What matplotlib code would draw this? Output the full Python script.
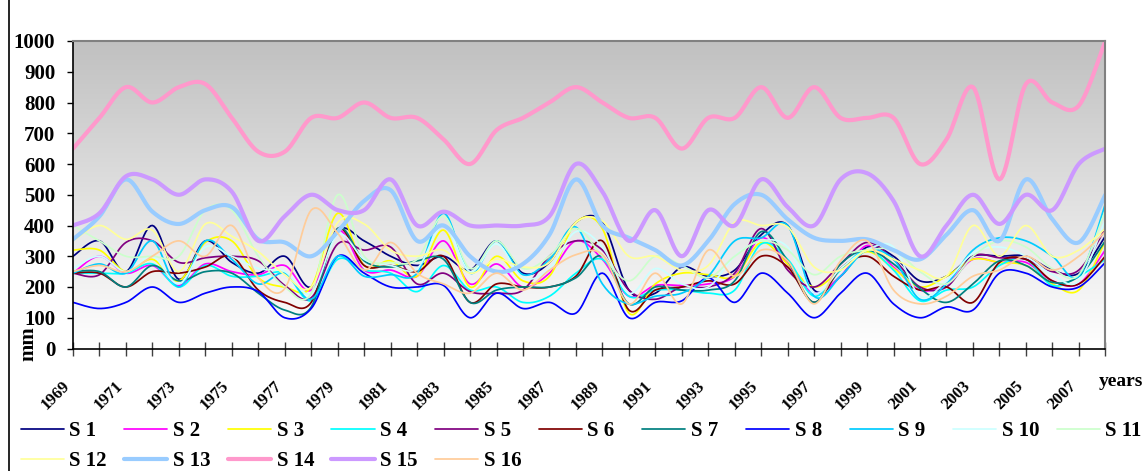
import numpy as np
import matplotlib
matplotlib.use('Agg')
import matplotlib.pyplot as plt
from matplotlib.colors import LinearSegmentedColormap
from matplotlib.lines import Line2D
from matplotlib.transforms import ScaledTranslation

years = list(range(1969, 2009))

s1 = [300, 350, 250, 400, 225, 350, 280, 245, 300, 200, 385, 350, 300, 270, 300, 255, 350, 245, 280, 410,
      410, 190, 180, 265, 235, 255, 370, 400, 190, 235, 330, 300, 220, 235, 300, 300, 300, 255, 245, 365]
s2 = [245, 300, 245, 270, 205, 275, 250, 240, 270, 190, 385, 255, 255, 235, 350, 210, 275, 200, 245, 350,
      290, 170, 205, 205, 210, 235, 360, 275, 180, 235, 335, 265, 190, 210, 290, 280, 280, 220, 210, 320]
s3 = [320, 320, 250, 290, 220, 345, 350, 230, 200, 200, 440, 270, 285, 235, 385, 200, 300, 220, 235, 410,
      390, 115, 210, 245, 240, 235, 345, 275, 200, 255, 315, 260, 200, 235, 290, 280, 270, 210, 190, 350]
s4 = [245, 245, 245, 275, 200, 270, 235, 235, 245, 155, 290, 255, 245, 185, 270, 190, 200, 150, 170, 245,
      290, 170, 190, 190, 180, 190, 340, 290, 170, 255, 320, 255, 155, 190, 200, 270, 290, 205, 235, 290]
s5 = [245, 240, 345, 350, 280, 295, 300, 285, 205, 165, 340, 320, 330, 210, 245, 185, 180, 190, 300, 350,
      320, 190, 160, 200, 200, 245, 390, 255, 200, 275, 345, 290, 200, 200, 300, 295, 290, 250, 255, 390]
s6 = [245, 245, 200, 250, 245, 265, 300, 190, 150, 150, 390, 270, 270, 250, 300, 150, 210, 200, 200, 235,
      350, 125, 190, 200, 220, 210, 300, 265, 150, 260, 300, 235, 190, 200, 150, 280, 290, 220, 210, 300]
s7 = [250, 250, 200, 270, 220, 250, 245, 180, 125, 135, 390, 285, 265, 285, 290, 150, 190, 200, 200, 230,
      300, 145, 200, 190, 190, 220, 380, 285, 150, 275, 320, 275, 195, 150, 210, 285, 270, 215, 235, 350]
s8 = [150, 130, 150, 200, 150, 180, 200, 185, 100, 130, 300, 245, 200, 200, 205, 100, 180, 130, 150, 115,
      245, 100, 150, 155, 230, 150, 245, 180, 100, 180, 245, 145, 100, 135, 125, 245, 245, 200, 200, 280]
s9 = [245, 275, 245, 350, 200, 350, 290, 210, 245, 160, 300, 235, 240, 245, 440, 245, 350, 240, 290, 395,
      210, 145, 170, 180, 235, 350, 360, 400, 170, 235, 320, 290, 160, 210, 320, 360, 350, 300, 235, 470]
s10 = [260, 300, 250, 300, 210, 330, 300, 260, 250, 180, 370, 290, 270, 260, 400, 250, 340, 230, 260, 380,
       330, 180, 260, 210, 200, 300, 350, 330, 180, 260, 320, 330, 170, 220, 310, 330, 300, 240, 220, 420]
s11 = [400, 350, 300, 300, 300, 450, 450, 300, 200, 180, 500, 300, 280, 290, 430, 260, 350, 260, 300, 390,
       300, 220, 300, 270, 230, 300, 350, 320, 240, 300, 320, 320, 250, 210, 300, 350, 330, 260, 240, 450]
s12 = [350, 400, 355, 385, 250, 405, 365, 315, 240, 200, 410, 405, 320, 300, 320, 245, 290, 265, 280, 410,
       415, 300, 300, 255, 270, 410, 400, 395, 265, 255, 320, 290, 255, 235, 400, 300, 400, 300, 320, 390]
s13 = [355, 430, 550, 445, 405, 450, 460, 355, 345, 300, 380, 480, 515, 350, 400, 300, 250, 275, 370, 550,
       400, 360, 320, 270, 350, 470, 500, 420, 360, 350, 355, 320, 290, 370, 450, 350, 550, 420, 345, 500]
s14 = [650, 750, 850, 800, 850, 860, 750, 640, 640, 750, 750, 800, 750, 750, 680, 600, 710, 750, 800, 850,
       800, 750, 750, 650, 750, 750, 850, 750, 850, 750, 750, 750, 600, 680, 850, 550, 860, 800, 790, 1000]
s15 = [400, 440, 560, 550, 500, 550, 510, 350, 430, 500, 450, 450, 550, 400, 445, 400, 400, 400, 430, 600,
       510, 350, 450, 300, 450, 400, 550, 460, 400, 550, 570, 480, 300, 400, 500, 405, 500, 450, 600, 650]
s16 = [250, 270, 250, 300, 350, 300, 400, 230, 195, 450, 375, 255, 345, 245, 210, 180, 245, 190, 255, 305,
       305, 145, 245, 145, 320, 235, 320, 285, 145, 285, 350, 190, 145, 170, 235, 255, 300, 255, 300, 380]

series = [s1, s2, s3, s4, s5, s6, s7, s8, s9, s10, s11, s12, s13, s14, s15, s16]
names = ['S %d' % (k + 1) for k in range(16)]
colors = ['#000080', '#FF00FF', '#FFFF00', '#00FFFF', '#800080', '#800000', '#008080', '#0000FF',
          '#00CCFF', '#CCFFFF', '#CCFFCC', '#FFFF99', '#99CCFF', '#FF99CC', '#CC99FF', '#FFCC99']
label_years = years[::2]


def smooth(x, y, n=16):
    # catmull-rom, like excel's smoothed line
    x = np.asarray(x, float)
    y = np.asarray(y, float)
    px = np.concatenate([[x[0]], x, [x[-1]]])
    py = np.concatenate([[y[0]], y, [y[-1]]])
    t = np.linspace(0, 1, n, endpoint=False)[None, :]
    out = []
    for p in (px, py):
        p0, p1, p2, p3 = p[:-3, None], p[1:-2, None], p[2:-1, None], p[3:, None]
        c = 0.5 * (2 * p1 + (-p0 + p2) * t + (2 * p0 - 5 * p1 + 4 * p2 - p3) * t ** 2
                   + (-p0 + 3 * p1 - 3 * p2 + p3) * t ** 3)
        out.append(np.append(c.ravel(), p[-2]))
    return out


plt.rcParams['font.family'] = ['Liberation Serif', 'DejaVu Serif']
plt.rcParams['font.weight'] = 'bold'
FS = 15

W, H = 1144, 471
fig = plt.figure(figsize=(W / 100, H / 100), dpi=100)
ax = fig.add_axes([73 / W, 1 - 348.5 / H, (1105.3 - 73) / W, (348.5 - 41) / H])

grad = LinearSegmentedColormap.from_list('bg', ['#ffffff', '#c0c0c0'])
ax.imshow(np.linspace(0, 1, 256)[:, None], aspect='auto', cmap=grad, origin='lower',
          extent=[years[0], years[-1], 0, 1000], zorder=0)

lines = []
for k, (vals, c) in enumerate(zip(series, colors)):
    lw = 3.0 if k in (12, 13, 14) else 1.25
    sx, sy = smooth(years, vals)
    ln, = ax.plot(sx, sy, color=c, lw=lw, solid_capstyle='round', zorder=2)
    lines.append(ln)

ax.set_xticks(years)
ax.set_yticks(range(0, 1001, 100))
ax.set_xlim(years[0], years[-1])
ax.set_ylim(0, 1000)
ax.tick_params(axis='y', direction='out', length=4.3, width=1, labelsize=FS, pad=8.5)
ax.tick_params(axis='x', direction='inout', length=10, width=1, color='#404040', labelbottom=False)

# slanted year labels, every second year, sitting a bit left of their tick as excel draws them
lab_tr = ax.get_xaxis_transform() + ScaledTranslation(-0.11, -0.295, fig.dpi_scale_trans)
for y in label_years:
    ax.text(y, 0, str(y), transform=lab_tr, rotation=45, ha='right', va='top',
            rotation_mode='anchor', fontsize=12, fontweight='bold', clip_on=False)

for side in ('top', 'right'):
    ax.spines[side].set_color('#808080')
    ax.spines[side].set_linewidth(1.5)
for side in ('left', 'bottom'):
    ax.spines[side].set_linewidth(1.2)

fig.text(28 / W, 1 - 344 / H, 'mm', rotation=90, ha='center', va='center', fontsize=FS, fontweight='bold')
fig.text(1099 / W, 1 - 381 / H, 'years', ha='left', va='center', fontsize=14, fontweight='bold')

fig.add_artist(Line2D([9 / W, 9 / W], [0, 1], color='black', lw=1.2))

# legend laid out row by row, 11 entries per row, even spacing
for k in range(16):
    row, col = divmod(k, 11)
    x0 = 20.7 + col * 103.6
    y0 = 431.5 + row * 29.5
    fig.legend([lines[k]], [names[k]], loc='center left', bbox_to_anchor=(x0 / W, 1 - y0 / H),
               frameon=False, fontsize=FS, handlelength=2.07, handletextpad=0.27,
               borderpad=0, borderaxespad=0)

fig.savefig('out.png', dpi=100)
